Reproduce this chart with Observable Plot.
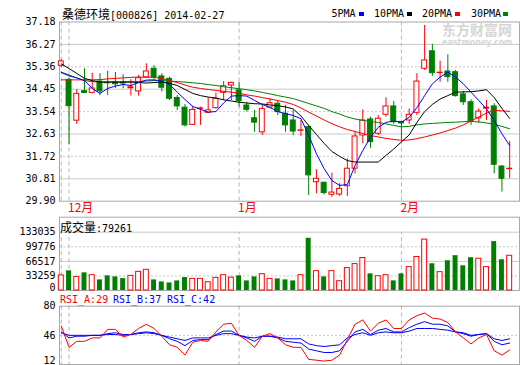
<!DOCTYPE html>
<html><head><meta charset="utf-8">
<script src="https://cdn.jsdelivr.net/npm/d3@7"></script>
<script src="https://cdn.jsdelivr.net/npm/@observablehq/plot@0.6"></script>
<style>
body{margin:0;background:#fff;}
#wrap{position:relative;width:520px;height:365px;overflow:hidden;background:#fff;}
.t{position:absolute;white-space:nowrap;line-height:1;}
.m{font-family:"DejaVu Sans Mono",monospace;font-size:10px;}
.c{font-family:"Noto Sans CJK SC",sans-serif;font-size:12px;}
.sq{position:absolute;width:5px;height:4px;}
</style></head><body><div id="wrap"></div>
<script>
// ---- data (index 0 = 2013-11-29 ... index 58 = 2014-02-27) ----
const openP  = [35.40,34.83,33.17,34.37,34.30,34.76,34.71,34.73,34.72,34.49,34.36,34.93,35.28,34.97,34.87,34.09,33.70,33.00,33.65,33.49,33.68,34.30,34.60,34.40,33.79,33.27,32.70,33.70,33.86,33.45,33.18,32.76,32.91,30.67,30.65,30.16,30.17,30.51,31.22,32.57,33.22,32.64,33.41,33.75,33.12,33.18,33.49,35.28,35.99,35.10,35.17,35.14,34.24,33.92,33.27,33.66,33.75,31.31,31.20];
const closeP = [35.58,33.76,34.26,34.30,34.48,34.36,34.69,34.65,34.68,34.53,34.90,35.17,34.94,34.51,34.06,33.75,32.98,33.61,33.67,33.59,34.06,34.57,34.71,33.96,33.61,33.09,33.65,33.88,33.52,32.98,32.73,32.78,30.95,30.81,30.23,30.25,30.40,31.22,32.53,33.18,32.30,33.25,33.75,33.11,33.06,33.41,34.76,35.62,35.10,35.12,34.94,34.17,33.92,33.15,33.54,33.70,31.38,30.81,31.22];
const highP  = [35.66,34.90,34.43,35.28,35.10,35.08,35.18,35.13,35.04,34.84,35.01,35.48,35.41,35.08,34.94,34.19,33.83,33.75,33.72,34.09,34.29,34.76,34.73,34.73,33.92,33.59,33.82,34.06,33.99,33.79,33.59,33.18,32.98,31.18,30.67,31.04,30.61,31.62,32.70,33.61,33.31,33.38,34.10,33.96,33.13,33.65,35.08,37.04,36.27,35.59,35.85,35.21,34.36,34.02,33.65,33.99,33.86,31.35,32.33];
const lowP   = [35.33,32.19,33.02,34.27,34.26,34.19,34.19,34.48,34.47,34.17,34.17,34.89,34.84,34.33,33.99,33.58,32.91,33.00,32.98,33.46,33.65,33.99,33.99,33.72,33.52,32.70,32.57,33.65,33.38,32.70,32.57,32.53,30.13,30.20,30.16,30.06,30.09,30.09,31.01,32.23,32.05,32.57,33.31,33.02,32.37,33.02,33.38,35.21,34.97,34.73,34.73,34.13,33.79,32.98,33.07,33.18,31.01,30.27,30.81];
const volume = [34500,44900,31100,40300,35000,24200,33400,31100,27200,33400,42600,47200,24200,19600,17300,21900,29500,26500,26500,18900,28800,35000,29500,33400,21900,31100,37300,26500,26500,24200,21900,35000,119200,44200,31100,44200,21200,51100,60300,74100,38000,32700,35000,21900,38000,53400,76400,116200,61000,41900,67900,79400,56400,74800,72500,53400,111600,70200,79261];
const ma5  = [35.13,34.99,34.91,34.80,34.48,34.28,34.48,34.58,34.64,34.60,34.72,34.82,34.83,34.78,34.64,34.33,34.03,33.75,33.63,33.52,33.54,33.89,34.17,34.19,34.17,33.99,33.83,33.71,33.54,33.46,33.38,33.25,32.57,31.83,31.22,30.74,30.54,30.58,31.35,31.96,32.50,32.90,33.10,33.16,33.11,33.31,33.70,34.19,34.67,34.94,35.14,34.94,34.67,34.33,33.99,33.65,33.18,32.64,32.16];
const ma10 = [35.48,35.29,35.09,34.89,34.80,34.74,34.74,34.74,34.74,34.74,34.72,34.70,34.72,34.74,34.69,34.60,34.44,34.28,34.19,34.13,34.09,34.02,33.97,33.92,33.89,33.86,33.85,33.81,33.78,33.73,33.65,33.36,32.98,32.61,32.25,31.92,31.72,31.55,31.49,31.49,31.49,31.49,31.76,32.02,32.31,32.59,33.10,33.54,33.83,34.05,34.19,34.33,34.34,34.35,34.38,34.43,34.11,33.67,33.26];
const ma20 = [34.83,34.83,34.83,34.83,34.83,34.84,34.87,34.89,34.91,34.93,34.94,34.94,34.93,34.89,34.80,34.72,34.62,34.53,34.48,34.44,34.40,34.36,34.33,34.28,34.22,34.17,34.11,34.05,33.99,33.92,33.83,33.69,33.52,33.36,33.20,33.05,32.92,32.81,32.73,32.65,32.57,32.51,32.45,32.41,32.37,32.39,32.44,32.51,32.59,32.67,32.77,32.87,33.00,33.16,33.32,33.48,33.59,33.57,33.55];
const ma30 = [35.14,35.03,34.91,34.80,34.76,34.74,34.74,34.74,34.74,34.75,34.76,34.78,34.80,34.80,34.78,34.76,34.74,34.71,34.68,34.64,34.60,34.55,34.51,34.47,34.43,34.38,34.32,34.26,34.19,34.13,34.07,33.97,33.87,33.77,33.67,33.54,33.44,33.32,33.24,33.18,33.14,33.10,33.04,32.98,32.92,32.94,33.00,33.04,33.06,33.08,33.10,33.11,33.13,33.14,33.12,33.08,33.02,32.94,32.84];
const rsiA = [57,32,39,39,43,43,53,53,44,47,54,59,54,45,35,32,23,38,40,39,50,59,60,46,40,32,45,48,43,35,32,32,18,17,16,17,23,41,59,64,51,60,64,54,54,64,69,72,66,65,61,50,43,36,43,47,28,23,29];
const rsiB = [50,43,45,45,46,46,48,49,47,47,49,50,49,46,42,39,34,40,41,41,47,51,51,46,43,39,45,45,43,39,38,37,30,28,26,26,28,39,50,53,47,52,54,50,50,55,59,62,59,59,57,50,49,46,47,48,39,35,37];
const rsiC = [49,46,46,46,46,46,47,47,46,47,48,49,48,46,44,42,40,43,43,43,46,48,48,46,44,43,45,45,44,42,42,42,36,34,33,34,35,43,47,49,46,49,50,49,49,51,54,54,54,53,52,50,48,45,47,48,42,40,42];
const priceTicks = [29.90,30.81,31.72,32.63,33.54,34.45,35.36,36.27,37.18];
const volTicks = [0,33259,66517,99776,133035];
const rsiTicks = [12,46,80];
const monthIdx = [1,23,44];
const monthLabels = ["12月","1月","2月"];
const dashIdx = [0,1,23,44];
const maNames = ["5PMA","10PMA","20PMA","30PMA"];

// ---- build tables ----
const rows = openP.map((o,i)=>({i,o,c:closeP[i],h:highP[i],l:lowP[i],v:volume[i],up:closeP[i]>=o}));
const upR = rows.filter(d=>d.up), dnR = rows.filter(d=>!d.up);
const ser = a => a.map((v,i)=>({i,v}));
const xDomain = [-0.233, 59.27];
const HW = 0.32;
const RED="#ff0000", GRN="#008000", BLU="#0000ff";
const GRID="#c8c8c8", FRAME="#a8a8a8", VDASH="#b8b8b8";
const baseStyle = {fontFamily:"'DejaVu Sans Mono',monospace", fontSize:"10px", background:"transparent", color:"#000", overflow:"visible"};
const wrap = document.getElementById("wrap");
function place(svg, top){ svg.style.position="absolute"; svg.style.left="0px"; svg.style.top=top+"px"; wrap.appendChild(svg); }

// ---- main price panel ----
const main = Plot.plot({
  width:520, height:216, marginLeft:59, marginRight:1, marginTop:21.5, marginBottom:15.3,
  x:{domain:xDomain, label:null}, y:{domain:[29.90,37.18], label:null},
  style: baseStyle,
  marks:[
    Plot.ruleY(priceTicks.filter((d,k)=>k>0&&k<8&&k%2===1), {stroke:GRID}),
    Plot.ruleY(priceTicks.filter((d,k)=>k>0&&k<8&&k%2===0), {stroke:GRID, strokeDasharray:"2,2"}),
    Plot.ruleX(dashIdx, {stroke:VDASH, strokeDasharray:"4,3"}),
    Plot.frame({stroke:FRAME}),
    Plot.ruleX(dnR, {x:"i", y1:"l", y2:"h", stroke:GRN}),
    Plot.ruleX(upR, {x:"i", y1:"l", y2:"h", stroke:RED}),
    Plot.rect(dnR, {x1:d=>d.i-HW, x2:d=>d.i+HW, y1:"o", y2:"c", fill:GRN, stroke:GRN}),
    Plot.rect(upR, {x1:d=>d.i-HW, x2:d=>d.i+HW, y1:"o", y2:"c", fill:"#fff", stroke:RED}),
    Plot.line(ser(ma30), {x:"i", y:"v", stroke:GRN, strokeWidth:1}),
    Plot.line(ser(ma20), {x:"i", y:"v", stroke:RED, strokeWidth:1}),
    Plot.line(ser(ma10), {x:"i", y:"v", stroke:"#000", strokeWidth:1}),
    Plot.line(ser(ma5),  {x:"i", y:"v", stroke:BLU, strokeWidth:1}),
    Plot.axisY(priceTicks, {tickSize:0, tickPadding:4, label:null, tickFormat:d=>d.toFixed(2), fill:"#000"}),
    Plot.axisX(monthIdx, {tickSize:0, tickPadding:2, label:null, textAnchor:"start", dx:-1, fill:RED,
      fontFamily:"Noto Sans CJK SC", fontSize:12, tickFormat:d=>monthLabels[monthIdx.indexOf(d)]})
  ]
});
place(main, 0);

// ---- volume panel ----
const vol = Plot.plot({
  width:520, height:75, marginLeft:59, marginRight:1, marginTop:0.7, marginBottom:1,
  x:{domain:xDomain, axis:null}, y:{domain:[0,167270], label:null},
  style: baseStyle,
  marks:[
    Plot.ruleY([volTicks[4], volTicks[2]], {stroke:GRID}),
    Plot.ruleY([volTicks[3], volTicks[1]], {stroke:GRID, strokeDasharray:"2,2"}),
    Plot.ruleX(dashIdx, {y1:0, y2:volTicks[4], stroke:VDASH, strokeDasharray:"4,3"}),
    Plot.frame({stroke:FRAME}),
    Plot.rect(dnR, {x1:d=>d.i-HW, x2:d=>d.i+HW, y1:0, y2:"v", fill:GRN}),
    Plot.rect(upR, {x1:d=>d.i-HW, x2:d=>d.i+HW, y1:0, y2:"v", fill:"#fff", stroke:RED}),
    Plot.axisY(volTicks.slice(1), {tickSize:0, tickPadding:4, label:null, fill:"#000", tickFormat:d=>String(d)}),
    Plot.axisY(volTicks.slice(0,1), {tickSize:0, tickPadding:4, label:null, dy:-3, fill:"#000", tickFormat:d=>String(d)})
  ]
});
place(vol, 216);

// ---- RSI panel ----
const rsi = Plot.plot({
  width:520, height:74, marginLeft:59, marginRight:1, marginTop:14.7, marginBottom:1,
  x:{domain:xDomain, axis:null}, y:{domain:[12,80], label:null},
  style: baseStyle,
  marks:[
    Plot.ruleY([rsiTicks[1]], {stroke:GRID, strokeDasharray:"2,2"}),
    Plot.ruleX(dashIdx, {stroke:VDASH, strokeDasharray:"4,3"}),
    Plot.frame({stroke:FRAME}),
    Plot.line(ser(rsiC), {x:"i", y:"v", stroke:BLU, strokeWidth:1}),
    Plot.line(ser(rsiB), {x:"i", y:"v", stroke:BLU, strokeWidth:1}),
    Plot.line(ser(rsiA), {x:"i", y:"v", stroke:RED, strokeWidth:1}),
    Plot.axisY(rsiTicks.slice(1), {tickSize:0, tickPadding:4, label:null, fill:"#000"}),
    Plot.axisY(rsiTicks.slice(0,1), {tickSize:0, tickPadding:4, label:null, dy:-4, fill:"#000"})
  ]
});
place(rsi, 291);

// ---- texts ----
function txt(html, left, top, cls, color){
  const d=document.createElement("div"); d.className="t "+cls; d.innerHTML=html;
  d.style.left=left+"px"; d.style.top=top+"px"; if(color) d.style.color=color; wrap.appendChild(d); return d;
}
txt('<span class="c">桑德环境</span><span class="m">[000826] 2014-02-27</span>', 62, 6, "", "#000");
const legX=[331.5,374,422,471], sqX=[359,406.5,455,503], sqC=[BLU,"#000",RED,GRN];
maNames.forEach((n,k)=>{ txt(n, legX[k], 9, "m", "#000");
  const s=document.createElement("div"); s.className="sq"; s.style.left=sqX[k]+"px"; s.style.top="12px"; s.style.background=sqC[k]; wrap.appendChild(s); });
txt('东方财富网', 442, 22, "c", "#d6d6d6").style.cssText += "font-size:14px;font-weight:bold;";
txt('eastmoney.com', 442, 38.5, "", "#d6d6d6").style.cssText += "font-family:'DejaVu Sans',sans-serif;font-size:8px;font-weight:bold;";
txt('<span class="c">成交量</span><span class="m">:' + volume[volume.length-1] + '</span>', 60, 219, "", "#000");
txt('RSI_A:' + rsiA[rsiA.length-1], 60, 295, "m", RED);
txt('RSI_B:' + rsiB[rsiB.length-1], 113, 295, "m", BLU);
txt('RSI_C:' + rsiC[rsiC.length-1], 167, 295, "m", BLU);
</script></body></html>
